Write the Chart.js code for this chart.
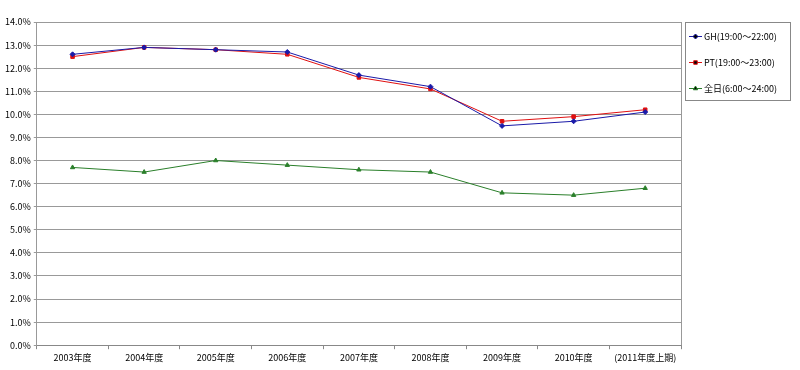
<!DOCTYPE html>
<html>
<head>
<meta charset="utf-8">
<script src="https://cdn.jsdelivr.net/npm/chart.js"></script>
<style>
  body { margin: 0; background: #fff; }
  canvas { display: block; }
</style>
</head>
<body>
<canvas id="chart" width="800" height="370"></canvas>
<script>
// 年度ごとの比率 (%)
const categories = ['2003年度', '2004年度', '2005年度', '2006年度', '2007年度', '2008年度', '2009年度', '2010年度', '(2011年度上期)'];
const ghValues = [12.6, 12.9, 12.8, 12.7, 11.7, 11.2, 9.5, 9.7, 10.1];
const ptValues = [12.5, 12.9, 12.8, 12.6, 11.6, 11.1, 9.7, 9.9, 10.2];
const allDayValues = [7.7, 7.5, 8.0, 7.8, 7.6, 7.5, 6.6, 6.5, 6.8];
const seriesNames = ['GH(19:00～22:00)', 'PT(19:00～23:00)', '全日(6:00～24:00)'];
const yTicks = [0, 1, 2, 3, 4, 5, 6, 7, 8, 9, 10, 11, 12, 13, 14];

const FONT = '"Noto Sans CJK JP", "Noto Sans", sans-serif';

// legend drawn by hand so it can sit in a bordered box like the original
const boxLegend = {
  id: 'boxLegend',
  afterDraw(chart) {
    const ctx = chart.ctx;
    const x = 685, y = 22, w = 105, h = 78;
    ctx.save();
    ctx.strokeStyle = '#888';
    ctx.lineWidth = 1;
    ctx.strokeRect(x + 0.5, y + 0.5, w, h);
    chart.data.datasets.forEach((ds, i) => {
      const cy = y + 14 + i * 26;
      ctx.strokeStyle = ds.borderColor;
      ctx.beginPath();
      ctx.moveTo(x + 4, cy + 0.5);
      ctx.lineTo(x + 17, cy + 0.5);
      ctx.stroke();
      Chart.helpers.drawPoint(ctx, {
        pointStyle: ds.pointStyle, radius: ds.pointRadius, borderWidth: 1
      }, x + 10.5, cy + 0.5);
      ctx.fillStyle = '#000';
      ctx.font = '9px ' + FONT;
      ctx.textBaseline = 'middle';
      ctx.fillText(ds.label, x + 19, cy + 1);
    });
    ctx.restore();
  }
};

function series(label, data, color, style, r) {
  return {
    label: label,
    data: data,
    borderColor: color,
    backgroundColor: color,
    borderWidth: 1,
    pointStyle: style,
    pointRadius: r,
    pointBorderColor: color,
    pointBackgroundColor: color,
    tension: 0
  };
}

new Chart(document.getElementById('chart').getContext('2d'), {
  type: 'line',
  data: {
    labels: categories,
    datasets: [
      series(seriesNames[0], ghValues, '#1a1aa8', 'rectRot', 2.5),
      series(seriesNames[1], ptValues, '#e01010', 'rect', 2.5),
      series(seriesNames[2], allDayValues, '#2a7f2a', 'triangle', 2.5)
    ]
  },
  options: {
    responsive: false,
    animation: false,
    layout: { padding: { left: 2, right: 119, top: 22, bottom: 4 } },
    plugins: {
      legend: { display: false },
      tooltip: { enabled: false }
    },
    scales: {
      x: {
        offset: true,
        grid: {
          offset: true,
          drawOnChartArea: false,
          drawTicks: true,
          tickLength: 4,
          color: '#888'
        },
        border: { color: '#888', width: 1 },
        ticks: {
          color: '#000',
          font: { family: FONT, size: 9 },
          padding: 3,
          maxRotation: 0,
          autoSkip: false
        }
      },
      y: {
        min: yTicks[0],
        max: yTicks[yTicks.length - 1],
        afterBuildTicks(scale) {
          scale.ticks = yTicks.map(v => ({ value: v }));
        },
        grid: {
          color: '#999',
          lineWidth: 1,
          drawTicks: true,
          tickLength: 3
        },
        border: { color: '#999', width: 1 },
        ticks: {
          color: '#000',
          font: { family: FONT, size: 9 },
          padding: 3,
          callback: v => v.toFixed(1) + '%'
        }
      }
    }
  },
  plugins: [boxLegend, {
    id: 'rightEdge',
    afterDraw(chart) {
      const a = chart.chartArea, ctx = chart.ctx;
      ctx.save();
      ctx.strokeStyle = '#999';
      ctx.beginPath();
      ctx.moveTo(Math.round(a.right) + 0.5, a.top);
      ctx.lineTo(Math.round(a.right) + 0.5, a.bottom);
      ctx.stroke();
      ctx.restore();
    }
  }]
});
</script>
</body>
</html>
